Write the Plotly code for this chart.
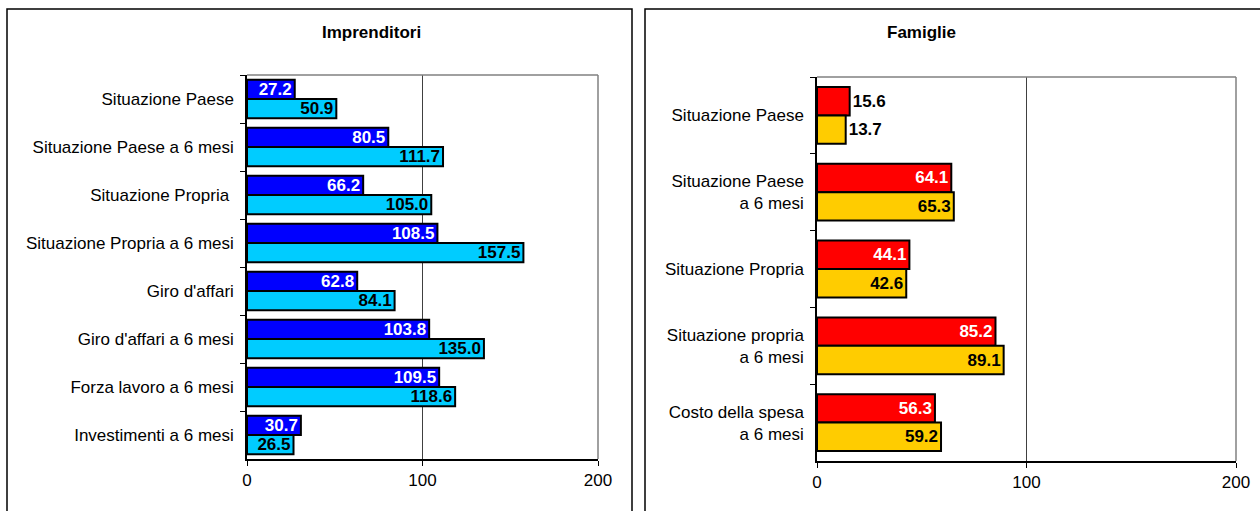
import plotly.graph_objects as go

FONT = "Liberation Sans, Arial, sans-serif"

# Imprenditori
imp_categories = [
    "Situazione Paese",
    "Situazione Paese a 6 mesi",
    "Situazione Propria ",
    "Situazione Propria a 6 mesi",
    "Giro d'affari",
    "Giro d'affari a 6 mesi",
    "Forza lavoro a 6 mesi",
    "Investimenti a 6 mesi",
]
imp_first = [27.2, 80.5, 66.2, 108.5, 62.8, 103.8, 109.5, 30.7]
imp_second = [50.9, 111.7, 105.0, 157.5, 84.1, 135.0, 118.6, 26.5]

# Famiglie
fam_categories = [
    "Situazione Paese",
    "Situazione Paese<br>a 6 mesi",
    "Situazione Propria",
    "Situazione propria<br>a 6 mesi",
    "Costo della spesa<br>a 6 mesi",
]
fam_first = [15.6, 64.1, 44.1, 85.2, 56.3]
fam_second = [13.7, 65.3, 42.6, 89.1, 59.2]

x_ticks = [0, 100, 200]

fig = go.Figure()


def add_bar(values, cats, color, txtcolor, xa, ya, width, offset, small=0):
    pos = ['outside' if v < small else 'inside' for v in values]
    fig.add_trace(go.Bar(
        x=values, y=cats, orientation='h',
        xaxis=xa, yaxis=ya,
        width=width, offset=offset,
        marker=dict(color=color, line=dict(color='black', width=2)),
        text=[f"{v:.1f}" for v in values],
        textposition=pos,
        insidetextanchor='end',
        constraintext='none',
        insidetextfont=dict(color=txtcolor, family=FONT, size=17, weight='bold'),
        outsidetextfont=dict(color='black', family=FONT, size=17, weight='bold'),
        cliponaxis=False,
        showlegend=False,
    ))


add_bar(imp_first, imp_categories, '#0000FF', 'white', 'x', 'y', 0.4, -0.4)
add_bar(imp_second, imp_categories, '#00CCFF', 'black', 'x', 'y', 0.4, 0.0)
add_bar(fam_first, fam_categories, '#FF0000', 'white', 'x2', 'y2', 0.37, -0.37, small=20)
add_bar(fam_second, fam_categories, '#FFCC00', 'black', 'x2', 'y2', 0.37, 0.0, small=20)

xaxis_common = dict(
    range=[0, 200], tickvals=x_ticks, ticks='outside', ticklen=5, tickcolor='black',
    showline=True, linecolor='black', linewidth=1.5, automargin=False,
    showgrid=True, gridcolor='#404040', gridwidth=1, zeroline=False,
    tickfont=dict(family=FONT, size=17, color='black'), fixedrange=True,
)
yaxis_common = dict(
    autorange='reversed', type='category', tickson='boundaries', automargin=False,
    ticks='outside', ticklen=5, tickcolor='black',
    showline=True, linecolor='black', linewidth=1.5, showgrid=False,
    tickfont=dict(family=FONT, size=17, color='black'), ticklabelstandoff=8,
)

fig.update_layout(
    width=1260, height=511,
    margin=dict(l=0, r=0, t=0, b=0, autoexpand=False),
    paper_bgcolor='white', plot_bgcolor='white',
    barmode='group',
    font=dict(family=FONT, color='black'),
    xaxis=dict(domain=[247 / 1260, 598 / 1260], anchor='y', **xaxis_common),
    yaxis=dict(domain=[1 - 459 / 511, 1 - 75 / 511], anchor='x', **yaxis_common),
    xaxis2=dict(domain=[817 / 1260, 1236 / 1260], anchor='y2', **xaxis_common),
    yaxis2=dict(domain=[1 - 461 / 511, 1 - 77 / 511], anchor='x2', **yaxis_common),
)

# panel borders
for x0, x1 in [(7, 632), (645, 1266)]:
    fig.add_shape(type='rect', xref='paper', yref='paper',
                  x0=x0 / 1260, x1=x1 / 1260, y0=-0.05, y1=1 - 9 / 511,
                  line=dict(color='black', width=1.5), layer='below')

# grey top/right frame of plot areas
for xa in ['x', 'x2']:
    ref = xa + ' domain'
    yref = ('y' if xa == 'x' else 'y2') + ' domain'
    fig.add_shape(type='line', xref=ref, yref=yref, x0=0, x1=1, y0=1, y1=1,
                  line=dict(color='#808080', width=1.5))
    fig.add_shape(type='line', xref=ref, yref=yref, x0=1, x1=1, y0=0, y1=1,
                  line=dict(color='#808080', width=1.5))

fig.add_annotation(text='<b>Imprenditori</b>', xref='paper', yref='paper',
                   x=320 / 1260, y=1 - 33 / 511, yanchor='middle', showarrow=False,
                   font=dict(family=FONT, size=17, color='black'))
fig.add_annotation(text='<b>Famiglie</b>', xref='paper', yref='paper',
                   x=958 / 1260, y=1 - 33 / 511, yanchor='middle', showarrow=False,
                   font=dict(family=FONT, size=17, color='black'))

fig.write_html(
    "out.html",
    config=dict(displayModeBar=False, responsive=False),
    post_script="document.body.style.margin='0';document.body.style.overflow='hidden';",
)
